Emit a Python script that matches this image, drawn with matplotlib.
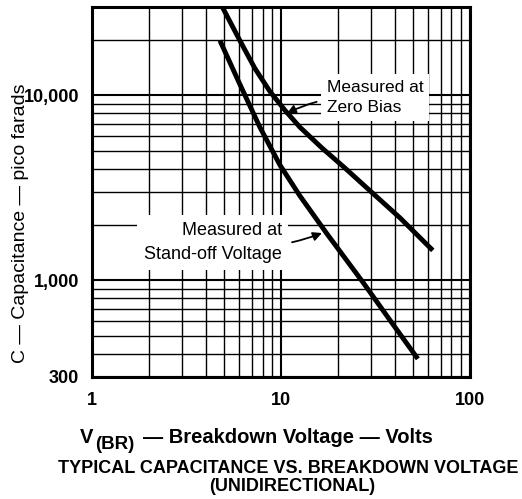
import matplotlib
matplotlib.use("Agg")
import matplotlib.pyplot as plt
from matplotlib.ticker import FixedLocator, NullFormatter

plt.rcParams['font.family'] = ['Liberation Sans', 'DejaVu Sans']

# curves (V_BR in volts, capacitance in pF)
zero_bias_v = [4.86, 6.07, 7.29, 8.74, 10.5, 12.6, 16.5, 21.8, 29.6, 42.6, 63.7]
zero_bias_c = [30500, 19760, 13970, 10510, 8310, 6730, 5190, 4050, 3050, 2180, 1450]

standoff_v = [4.76, 6.07, 7.74, 9.88, 12.6, 17.5, 27.2, 39.1, 53.1]
standoff_c = [19760, 11460, 6730, 4205, 2864, 1789, 975, 580, 376]

x_ticks = [1, 10, 100]
x_labels = ['1', '10', '100']
y_ticks = [300, 1000, 10000]
y_labels = ['300', '1,000', '10,000']

fig = plt.figure(figsize=(5.22, 4.99), dpi=100)
ax = fig.add_axes([0.176, 0.2445, 0.724, 0.7415])
ax.set_xscale('log')
ax.set_yscale('log')
ax.set_xlim(1, 100)
ax.set_ylim(300, 30000)

ax.xaxis.set_major_locator(FixedLocator(x_ticks))
ax.set_xticklabels(x_labels)
ax.xaxis.set_minor_locator(FixedLocator([2, 3, 4, 5, 6, 7, 8, 9, 20, 30, 40, 50, 60, 70, 80, 90]))
ax.xaxis.set_minor_formatter(NullFormatter())
ax.yaxis.set_major_locator(FixedLocator(y_ticks))
ax.set_yticklabels(y_labels)
ax.yaxis.set_minor_locator(FixedLocator([400, 500, 600, 700, 800, 900, 2000, 3000, 4000,
                                         5000, 6000, 7000, 8000, 9000, 20000]))
ax.yaxis.set_minor_formatter(NullFormatter())

ax.tick_params(which='both', length=0, labelsize=13)
ax.tick_params(axis='x', pad=11)
ax.tick_params(axis='y', pad=9)
for lab in ax.get_xticklabels() + ax.get_yticklabels():
    lab.set_fontweight('bold')

ax.grid(which='major', color='black', lw=1.5)
ax.grid(which='minor', color='black', lw=1.0)
ax.set_axisbelow(True)
for sp in ax.spines.values():
    sp.set_linewidth(2.2)

ax.plot(zero_bias_v, zero_bias_c, color='black', lw=3.5, solid_capstyle='butt',
        solid_joinstyle='round', zorder=4)
ax.plot(standoff_v, standoff_c, color='black', lw=3.5, solid_capstyle='butt',
        solid_joinstyle='round', zorder=4)

box = dict(boxstyle='square,pad=0.35', fc='white', ec='none')
ax.annotate('Measured at\nZero Bias', xy=(10.8, 8000), xytext=(17.5, 9700),
            fontsize=12.5, ha='left', va='center', linespacing=1.45, bbox=box, zorder=3,
            arrowprops=dict(arrowstyle='-|>', color='black', lw=1.3,
                            connectionstyle='arc3,rad=0.15', shrinkA=3, shrinkB=0))
ax.annotate('Measured at\nStand-off Voltage', xy=(16.5, 1800), xytext=(10.1, 1600),
            fontsize=13, ha='right', va='center', multialignment='right',
            linespacing=1.6, bbox=box, zorder=3,
            arrowprops=dict(arrowstyle='-|>', color='black', lw=1.3,
                            connectionstyle='arc3,rad=0.15', shrinkA=3, shrinkB=0))

fig.text(0.04, 0.553, 'C \u2014 Capacitance \u2014 pico farads', rotation=90,
         fontsize=14, ha='center', va='center')

fig.text(0.153, 0.112, 'V', fontsize=14.5, fontweight='bold', ha='left', va='baseline')
fig.text(0.182, 0.100, '(BR)', fontsize=13.5, fontweight='bold', ha='left', va='baseline')
fig.text(0.274, 0.112, '\u2014 Breakdown Voltage \u2014 Volts', fontsize=14.5,
         fontweight='bold', ha='left', va='baseline')

fig.text(0.553, 0.052, 'TYPICAL CAPACITANCE VS. BREAKDOWN VOLTAGE', fontsize=13,
         fontweight='bold', ha='center', va='baseline')
fig.text(0.559, 0.016, '(UNIDIRECTIONAL)', fontsize=13,
         fontweight='bold', ha='center', va='baseline')

fig.savefig('out.png', dpi=100)
